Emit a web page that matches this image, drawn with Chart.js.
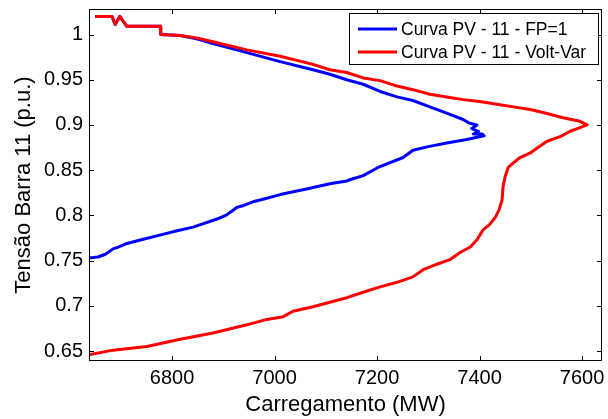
<!DOCTYPE html>
<html>
<head>
<meta charset="utf-8">
<script src="https://cdn.jsdelivr.net/npm/chart.js@4.4.1/dist/chart.umd.min.js"></script>
<style>
  body { margin: 0; background: #fff; }
  #wrap { width: 608px; height: 419px; }
</style>
</head>
<body>
<div id="wrap"><canvas id="pvChart" width="608" height="419"></canvas></div>
<script>
// Curva PV da barra 11 com fator de potência unitário (carga em MW, tensão em p.u.)
const loadFP1 = [6650, 6683, 6689, 6698, 6712, 6777, 6778, 6816, 6850, 6880, 6946, 7011, 7075, 7108, 7141,
  7173, 7206, 7239, 7270, 7303, 7336, 7368, 7380, 7395, 7385, 7398, 7388, 7405, 7409, 7375,
  7336, 7300, 7270, 7251, 7202, 7173, 7150, 7141, 7108, 7060, 7011, 6985, 6958, 6940, 6927,
  6915, 6905, 6888, 6841, 6810, 6782, 6740, 6712, 6695, 6685, 6670, 6655, 6638];
const voltFP1 = [1.020, 1.020, 1.011, 1.020, 1.009, 1.009, 1.000, 0.999, 0.995, 0.990, 0.980, 0.970, 0.961, 0.956, 0.950,
  0.945, 0.937, 0.931, 0.927, 0.920, 0.913, 0.906, 0.902, 0.900, 0.896, 0.893, 0.890, 0.890, 0.888, 0.884,
  0.880, 0.876, 0.872, 0.864, 0.853, 0.844, 0.840, 0.838, 0.835, 0.829, 0.823, 0.819, 0.815, 0.811, 0.809,
  0.804, 0.800, 0.796, 0.787, 0.783, 0.779, 0.773, 0.769, 0.765, 0.763, 0.757, 0.754, 0.753];

// Curva PV da barra 11 com controle Volt-Var
const loadVV = [6650, 6683, 6689, 6698, 6712, 6777, 6778, 6816, 6850, 6880, 6946, 7011, 7075, 7108, 7141,
  7173, 7206, 7239, 7270, 7303, 7336, 7368, 7400, 7434, 7466, 7499, 7530, 7563, 7596, 7610,
  7596, 7577, 7557, 7532, 7514, 7499, 7479, 7466, 7456, 7450, 7446, 7444, 7438, 7432, 7420,
  7407, 7395, 7382, 7362, 7342, 7317, 7290, 7270, 7239, 7206, 7173, 7141, 7108, 7075, 7036,
  7017, 6985, 6946, 6880, 6816, 6751, 6685, 6638];
const voltVV = [1.020, 1.020, 1.011, 1.020, 1.009, 1.009, 1.000, 0.999, 0.996, 0.992, 0.983, 0.976, 0.967, 0.961, 0.958,
  0.952, 0.949, 0.943, 0.939, 0.934, 0.931, 0.928, 0.926, 0.923, 0.920, 0.917, 0.913, 0.908, 0.904, 0.900,
  0.897, 0.893, 0.887, 0.882, 0.875, 0.869, 0.864, 0.858, 0.853, 0.843, 0.832, 0.817, 0.806, 0.799, 0.790,
  0.784, 0.773, 0.765, 0.759, 0.751, 0.746, 0.740, 0.732, 0.726, 0.721, 0.715, 0.709, 0.704, 0.699, 0.694,
  0.688, 0.685, 0.679, 0.670, 0.663, 0.655, 0.651, 0.646];

const seriesNames = ["Curva PV - 11 - FP=1", "Curva PV - 11 - Volt-Var"];
const seriesColors = ["#0000ff", "#ff0000"];
const xTicks = [6800, 7000, 7200, 7400, 7600];
const yTicks = [0.65, 0.7, 0.75, 0.8, 0.85, 0.9, 0.95, 1];

const FONT = "'Liberation Sans', Arial, Helvetica, sans-serif";

function toPoints(xs, ys) {
  return xs.map((x, i) => ({ x: x, y: ys[i] }));
}

// caixa dos eixos com marcas para dentro nos quatro lados + legenda com borda
const axesBox = {
  id: "axesBox",
  afterDraw(chart) {
    const { ctx, chartArea: a, scales } = chart;
    const tick = 5;
    ctx.save();
    ctx.strokeStyle = "#000";
    ctx.lineWidth = 1;
    ctx.strokeRect(a.left + 0.5, a.top + 0.5, a.right - a.left - 1, a.bottom - a.top - 1);
    ctx.beginPath();
    xTicks.forEach(v => {
      const px = Math.round(scales.x.getPixelForValue(v)) + 0.5;
      ctx.moveTo(px, a.bottom); ctx.lineTo(px, a.bottom - tick);
      ctx.moveTo(px, a.top); ctx.lineTo(px, a.top + tick);
    });
    yTicks.forEach(v => {
      const py = Math.round(scales.y.getPixelForValue(v)) + 0.5;
      ctx.moveTo(a.left, py); ctx.lineTo(a.left + tick, py);
      ctx.moveTo(a.right, py); ctx.lineTo(a.right - tick, py);
    });
    ctx.stroke();

    // legenda
    const boxW = 249, boxH = 51;
    const bx = a.right - 4 - boxW, by = a.top + 4;
    ctx.fillStyle = "#fff";
    ctx.fillRect(bx, by, boxW, boxH);
    ctx.strokeRect(bx + 0.5, by + 0.5, boxW, boxH);
    ctx.font = "17.5px " + FONT;
    ctx.textBaseline = "middle";
    chart.data.datasets.forEach((ds, i) => {
      const ly = by + 16 + i * 23;
      ctx.strokeStyle = ds.borderColor;
      ctx.lineWidth = 3;
      ctx.beginPath();
      ctx.moveTo(bx + 9, ly); ctx.lineTo(bx + 48, ly);
      ctx.stroke();
      ctx.fillStyle = "#000";
      ctx.fillText(ds.label, bx + 52, ly + 1);
    });
    ctx.restore();
  }
};

new Chart(document.getElementById("pvChart"), {
  type: "scatter",
  data: {
    datasets: [
      {
        label: seriesNames[0],
        data: toPoints(loadFP1, voltFP1),
        borderColor: seriesColors[0],
        order: 1
      },
      {
        label: seriesNames[1],
        data: toPoints(loadVV, voltVV),
        borderColor: seriesColors[1],
        order: 0
      }
    ]
  },
  options: {
    responsive: false,
    animation: false,
    showLine: true,
    elements: {
      point: { radius: 0 },
      line: { borderWidth: 3, tension: 0, borderJoinStyle: "round" }
    },
    layout: { padding: { top: 9, right: 6, left: 0, bottom: 0 } },
    plugins: {
      legend: { display: false },
      tooltip: { enabled: false }
    },
    scales: {
      x: {
        type: "linear",
        min: 6638,
        max: 7639,
        grid: { display: false, drawTicks: false },
        border: { display: false },
        ticks: {
          color: "#000",
          font: { family: FONT, size: 20 },
          padding: 5,
          autoSkip: false,
          maxRotation: 0,
          callback: v => String(v)
        },
        afterBuildTicks: s => { s.ticks = xTicks.map(v => ({ value: v })); },
        afterFit: s => { s.height = 58; s.paddingLeft = 0; s.paddingRight = 0; },
        title: {
          display: true,
          text: "Carregamento (MW)",
          color: "#000",
          font: { family: FONT, size: 22 },
          padding: { top: 0, bottom: 1 }
        }
      },
      y: {
        type: "linear",
        min: 0.639,
        max: 1.0282,
        grid: { display: false, drawTicks: false },
        border: { display: false },
        ticks: {
          color: "#000",
          font: { family: FONT, size: 20 },
          padding: 6,
          callback: v => String(+v.toFixed(2))
        },
        afterBuildTicks: s => { s.ticks = yTicks.map(v => ({ value: v })); },
        afterFit: s => { s.width = 89; s.paddingTop = 0; s.paddingBottom = 0; },
        title: {
          display: true,
          text: "Tensão Barra 11 (p.u.)",
          color: "#000",
          font: { family: FONT, size: 22 },
          padding: { top: 11, bottom: 0 }
        }
      }
    }
  },
  plugins: [axesBox]
});
</script>
</body>
</html>
